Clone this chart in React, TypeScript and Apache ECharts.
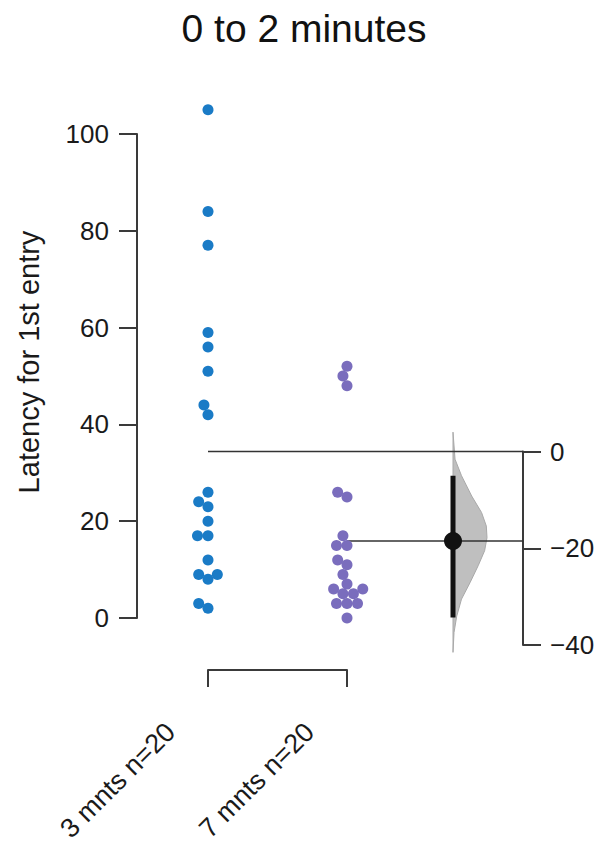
import React, { useEffect, useRef } from 'react';
import * as echarts from 'echarts';

// ---------- data ----------
const titleText = '0 to 2 minutes';
const yAxisTitle = 'Latency for 1st entry';
const groupNames = ['3 mnts', '7 mnts'];
const group1 = [105, 84, 77, 59, 56, 51, 44, 42, 26, 24, 23, 20, 17, 17, 12, 9, 8, 9, 3, 2];
const group2 = [52, 50, 48, 26, 25, 17, 15, 15, 12, 11, 9, 7, 6, 6, 5, 5, 3, 3, 3, 0];
const leftTicks = [0, 20, 40, 60, 80, 100];
const rightTicks = [-40, -20, 0];
const ciBounds = [-34.3, -5.0];
// bootstrap distribution of the mean difference (value, relative density)
const densityDiff = [4.0, -1.6, -5.0, -9.2, -12.6, -15.4, -17.8, -20.5, -23.6, -27.1, -30.5, -34.0, -37.4, -41.5];
const densityRel = [0, 0.06, 0.25, 0.55, 0.84, 0.98, 1.0, 0.93, 0.74, 0.5, 0.25, 0.11, 0.03, 0];

// ---------- layout ----------
const FONT = 'Liberation Sans, Arial, Helvetica, sans-serif';
const G_LEFT = 208;
const G_TOP = 134;
const G_HEIGHT = 484;
const PX_PER_X = 139;
const PX_PER_Y = G_HEIGHT / 100;
const RIGHT_AXIS_PX = 523;
const DELTA_PX = 453;
const DENS_MAX_PX = 34;
const DOT = 11;
const AXIS_COLOR = '#3a3a3a';
const TEXT_COLOR = '#1a1a1a';

const mean = (a: number[]) => a.reduce((s, v) => s + v, 0) / a.length;

function swarm(values: number[], diam: number) {
  const order = values.map((_, i) => i).sort((a, b) => values[a] - values[b]);
  const placed: { x: number; y: number }[] = [];
  const res: number[] = new Array(values.length).fill(0);
  for (const i of order) {
    const y = values[i] * PX_PER_Y;
    const near = placed.filter((p) => Math.abs(p.y - y) < diam);
    const cands = [0];
    for (const p of near) {
      const dx = Math.sqrt(diam * diam - (p.y - y) * (p.y - y));
      cands.push(p.x + dx, p.x - dx);
    }
    cands.sort((a, b) => Math.abs(a) - Math.abs(b) || a - b);
    let chosen = 0;
    for (const c of cands) {
      if (near.every((p) => (p.x - c) ** 2 + (p.y - y) ** 2 >= diam * diam - 1e-6)) {
        chosen = c;
        break;
      }
    }
    placed.push({ x: chosen, y });
    res[i] = chosen / PX_PER_X;
  }
  return res;
}

export default function App() {
  const ref = useRef<HTMLDivElement>(null);

  useEffect(() => {
    if (!ref.current) return;
    const chart = echarts.init(ref.current, undefined, { renderer: 'svg' });

    const m1 = mean(group1);
    const m2 = mean(group2);
    const diff = m2 - m1;
    const sw1 = swarm(group1, 10.5);
    const sw2 = swarm(group2, 10.5);
    const g2Top = G_TOP + G_HEIGHT - m1 * PX_PER_Y;
    const g2Width = RIGHT_AXIS_PX - G_LEFT;
    const xRight = g2Width / PX_PER_X;
    const xDelta = (DELTA_PX - G_LEFT) / PX_PER_X;
    const densW = DENS_MAX_PX / PX_PER_X;
    const labels = groupNames.map((n, i) => `${n} n=${[group1, group2][i].length}`);

    const textBase = { fontFamily: FONT, color: TEXT_COLOR, fontSize: 26 };
    const axisLine = { show: true, onZero: false, lineStyle: { color: AXIS_COLOR, width: 2 } };
    const tickStyle = { color: AXIS_COLOR, width: 2 };

    chart.setOption({
      animation: false,
      backgroundColor: '#ffffff',
      title: {
        text: titleText,
        left: 'center',
        top: 4,
        textStyle: { fontFamily: FONT, fontSize: 39, fontWeight: 'normal', color: '#111111' },
      },
      grid: [
        { left: G_LEFT, top: G_TOP, width: PX_PER_X, height: G_HEIGHT, outerBoundsMode: 'none' },
        { left: G_LEFT, top: g2Top, width: g2Width, height: 40 * PX_PER_Y, outerBoundsMode: 'none' },
      ],
      xAxis: [
        {
          gridIndex: 0,
          type: 'value',
          min: 0,
          max: 1,
          interval: 1,
          position: 'bottom',
          offset: 52,
          axisLine,
          axisTick: { show: true, length: 17, lineStyle: tickStyle },
          splitLine: { show: false },
          axisLabel: {
            ...textBase,
            fontSize: 27,
            rotate: 45,
            margin: 20,
            padding: [0, 53, 0, 0],
            formatter: (v: number) => labels[Math.round(v)] ?? '',
          },
        },
        {
          gridIndex: 1,
          type: 'value',
          min: 0,
          max: xRight,
          show: false,
          axisLine: { show: false, onZero: false },
          splitLine: { show: false },
        },
      ],
      yAxis: [
        {
          gridIndex: 0,
          type: 'value',
          min: leftTicks[0],
          max: leftTicks[leftTicks.length - 1],
          interval: leftTicks[1] - leftTicks[0],
          position: 'left',
          offset: G_LEFT - 137,
          axisLine,
          axisTick: { show: true, length: 18, lineStyle: tickStyle },
          splitLine: { show: false },
          axisLabel: { ...textBase, margin: 28 },
          name: yAxisTitle,
          nameLocation: 'middle',
          nameGap: 94,
          nameTextStyle: { fontFamily: FONT, fontSize: 29, color: TEXT_COLOR, padding: [0, 0, 0, 28] },
        },
        {
          gridIndex: 1,
          type: 'value',
          min: rightTicks[0],
          max: rightTicks[rightTicks.length - 1],
          interval: rightTicks[1] - rightTicks[0],
          position: 'right',
          axisLine,
          axisTick: { show: true, length: 18, lineStyle: tickStyle },
          splitLine: { show: false },
          axisLabel: {
            ...textBase,
            margin: 27,
            formatter: (v: number) => String(v).replace('-', '\u2212'),
          },
        },
      ],
      series: [
        {
          type: 'scatter',
          xAxisIndex: 0,
          yAxisIndex: 0,
          clip: false,
          symbolSize: DOT,
          itemStyle: { color: '#1a7bc6', opacity: 1 },
          data: group1.map((v, i) => [sw1[i], v]),
          z: 3,
        },
        {
          type: 'scatter',
          xAxisIndex: 0,
          yAxisIndex: 0,
          clip: false,
          symbolSize: DOT,
          itemStyle: { color: '#7a6dbd', opacity: 1 },
          data: group2.map((v, i) => [1 + sw2[i], v]),
          z: 3,
        },
        {
          type: 'line',
          xAxisIndex: 1,
          yAxisIndex: 1,
          clip: false,
          symbol: 'none',
          lineStyle: { color: '#333333', width: 1.5 },
          data: [
            [0, 0],
            [xRight, 0],
          ],
          z: 2,
        },
        {
          type: 'line',
          xAxisIndex: 1,
          yAxisIndex: 1,
          clip: false,
          symbol: 'none',
          lineStyle: { color: '#333333', width: 1.5 },
          data: [
            [1, diff],
            [xRight, diff],
          ],
          z: 2,
        },
        {
          type: 'custom',
          xAxisIndex: 1,
          yAxisIndex: 1,
          clip: false,
          data: [[xDelta, 0]],
          renderItem: (params: any, api: any) => {
            const right = densityDiff.map((d, i) => api.coord([xDelta + densityRel[i] * densW, d]));
            const pts = [
              api.coord([xDelta, densityDiff[0]]),
              ...right,
              api.coord([xDelta, densityDiff[densityDiff.length - 1]]),
            ];
            return {
              type: 'polygon',
              shape: { points: pts },
              style: { fill: '#bfbfbf', stroke: '#a9a9a9', lineWidth: 1 },
            };
          },
          z: 1,
        },
        {
          type: 'line',
          xAxisIndex: 1,
          yAxisIndex: 1,
          clip: false,
          symbol: 'none',
          lineStyle: { color: '#111111', width: 5, cap: 'butt' },
          data: [
            [xDelta, ciBounds[0]],
            [xDelta, ciBounds[1]],
          ],
          z: 4,
        },
        {
          type: 'scatter',
          xAxisIndex: 1,
          yAxisIndex: 1,
          clip: false,
          symbolSize: 18,
          itemStyle: { color: '#111111', opacity: 1 },
          data: [[xDelta, diff]],
          z: 5,
        },
      ],
    });

    return () => chart.dispose();
  }, []);

  return (
    <div
      ref={ref}
      style={{ position: 'absolute', left: 0, top: 0, width: 608, height: 850, background: '#fff' }}
    />
  );
}
